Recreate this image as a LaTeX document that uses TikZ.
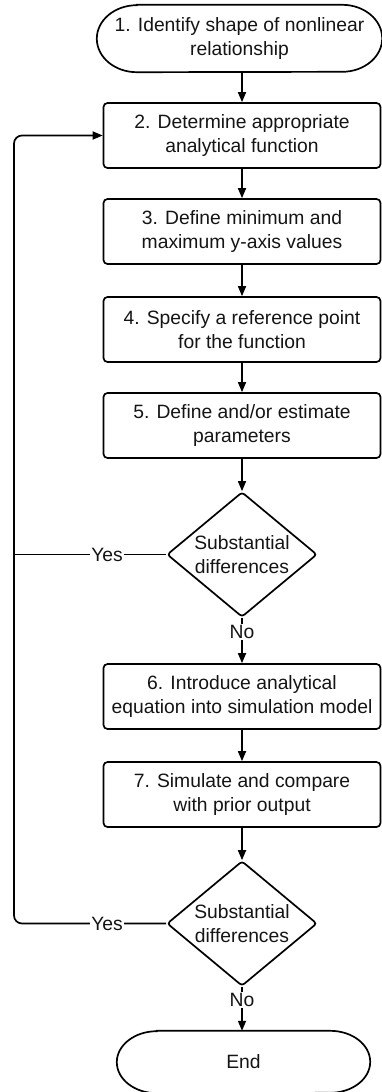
\documentclass[tikz,border=0pt]{standalone}
\usepackage{fontspec}
\setmainfont{Liberation Sans}
\usetikzlibrary{arrows.meta,shapes.geometric,calc}
\begin{document}
\begin{tikzpicture}[x=1pt,y=-1pt,
  every node/.style={font=\fontsize{19.3}{24}\selectfont, text=black!92, align=center},
  stepbox/.style={draw, rounded corners=4pt, minimum width=277pt, minimum height=65pt, inner sep=0pt, line width=1.7pt},
  decision/.style={draw, diamond, minimum width=150pt, minimum height=125pt, inner sep=0pt, aspect=1.2, rounded corners=3pt, line width=1.7pt},
  termtext/.style={inner sep=0pt},
  lbl/.style={fill=white, inner sep=1.5pt},
  arr/.style={line width=1.7pt, -{Triangle[length=10pt,width=8pt]}},
  conn/.style={line width=1.7pt}
]
\useasboundingbox (0,0) rectangle (381,1092);

% terminal 1
\node[termtext, minimum width=285pt, minimum height=67pt] (t1) at (239.5,38.5) {1. Identify shape of nonlinear\\relationship};
\draw[conn] ([xshift=40pt]t1.north west) -- ([xshift=-40pt]t1.north east)
  arc[start angle=90,end angle=-90,x radius=40pt,y radius=33.5pt]
  -- ([xshift=40pt]t1.south west)
  arc[start angle=270,end angle=90,x radius=40pt,y radius=33.5pt] -- cycle;

\node[stepbox] (b2) at (242,135.5) {2. Determine appropriate\\analytical function};
\node[stepbox] (b3) at (242,231.5) {3. Define minimum and\\maximum y-axis values};
\node[stepbox] (b4) at (242,329.5) {4. Specify a reference point\\for the function};
\node[stepbox] (b5) at (242,425.5) {5. Define and/or estimate\\parameters};
\node[decision] (d1) at (242,554.5) {Substantial\\differences};
\node[stepbox] (b6) at (242,696.5) {6. Introduce analytical\\equation into simulation model};
\node[stepbox] (b7) at (242,794.5) {7. Simulate and compare\\with prior output};
\node[decision] (d2) at (242,923.5) {Substantial\\differences};

% terminal End
\node[termtext, minimum width=253pt, minimum height=62pt] (te) at (243.5,1062) {End};
\draw[conn] ([xshift=40pt]te.north west) -- ([xshift=-40pt]te.north east)
  arc[start angle=90,end angle=-90,x radius=40pt,y radius=31pt]
  -- ([xshift=40pt]te.south west)
  arc[start angle=270,end angle=90,x radius=40pt,y radius=31pt] -- cycle;

\node[inner sep=1pt] (no1) at (242,632) {No};
\node[inner sep=1pt] (no2) at (242,1000) {No};

\coordinate (c1) at (14,135.5);

% main flow
\draw[arr] (b2.north |- t1.south) -- (b2.north);
\draw[arr] (b2.south) -- (b3.north);
\draw[arr] (b3.south) -- (b4.north);
\draw[arr] (b4.south) -- (b5.north);
\draw[arr] (b5.south) -- (d1.north);
\draw[conn] (d1.south) -- (no1.north);
\draw[arr] (no1.south) -- (b6.north);
\draw[arr] (b6.south) -- (b7.north);
\draw[arr] (b7.south) -- (d2.north);
\draw[conn] (d2.south) -- (no2.north);
\draw[arr] (no2.south) -- (no2.south |- te.north);

% feedback loops
\draw[conn] (d1.west) -- (d1.west -| c1);
\draw[arr, rounded corners=8pt] (d2.west) -- (d2.west -| c1) -- (c1) -- (b2.west);
\node[lbl] (yes1) at (107,554.5) {Yes};
\node[lbl] (yes2) at (107,923.5) {Yes};
\end{tikzpicture}
\end{document}
